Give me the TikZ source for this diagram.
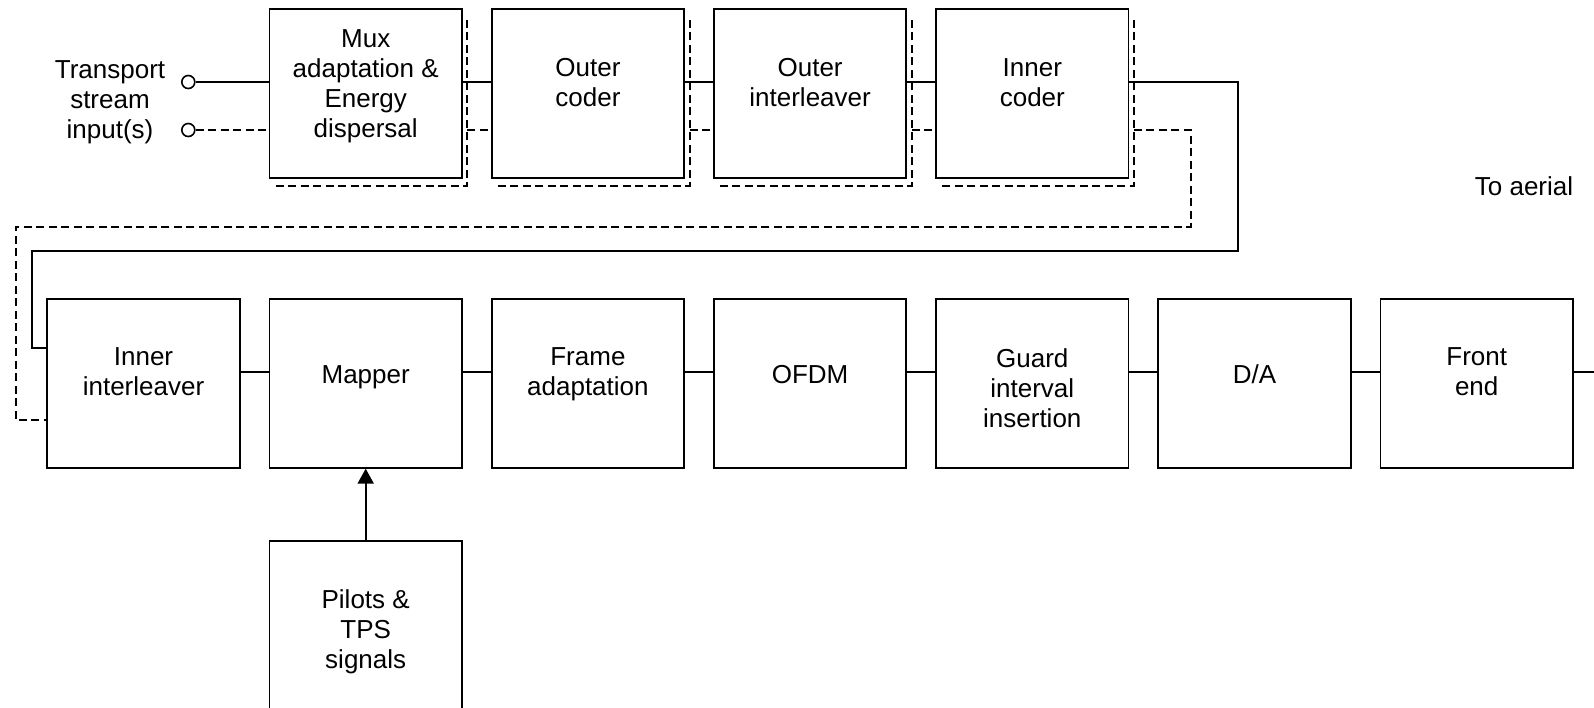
\documentclass[tikz,border=0pt]{standalone}
\usepackage{fontspec}
\setmainfont{Liberation Sans}
\usetikzlibrary{arrows.meta}
\newcommand\firststrut{\vrule width 0pt height 22pt depth 7.5pt\relax}
\begin{document}
\begin{tikzpicture}[x=1pt,y=-1pt,
 blk/.style={draw,line width=1.9pt,minimum width=192.4pt,minimum height=168.4pt,inner sep=0pt},
 txt/.style={anchor=north,align=center,inner sep=0pt,font=\fontsize{26}{30}\selectfont,execute at begin node=\firststrut},
 ln/.style={line width=1.9pt},
 dsh/.style={line width=1.9pt,dash pattern=on 8pt off 4.5pt},
 term/.style={draw,circle,line width=1.6pt,minimum size=13pt,inner sep=0pt}
]
\useasboundingbox (0,0) rectangle (1594,707);
\clip (0,0) rectangle (1594,707);

% top row
\node[blk] (mux) at (365.7,93.5) {};
\node[blk] (oc) at (587.9,93.5) {};
\node[blk] (oi) at (810.1,93.5) {};
\node[blk] (ic) at (1032.3,93.5) {};
% bottom row
\node[blk] (iil) at (143.5,383.5) {};
\node[blk] (map) at (365.7,383.5) {};
\node[blk] (fra) at (587.9,383.5) {};
\node[blk] (ofdm) at (810.1,383.5) {};
\node[blk] (gi) at (1032.3,383.5) {};
\node[blk] (da) at (1254.5,383.5) {};
\node[blk] (fe) at (1476.7,383.5) {};
\node[blk] (pil) at (365.7,624.9) {};

% texts
\node[txt] (tmux) at (365.7,29.3) {Mux\\adaptation \&\\Energy\\dispersal};
\node[txt] (toc) at (587.9,58.5) {Outer\\coder};
\node[txt] (toi) at (810.1,58.5) {Outer\\interleaver};
\node[txt] (tic) at (1032.3,58.5) {Inner\\coder};
\node[txt] (tiil) at (143.5,347.5) {Inner\\interleaver};
\node[txt] (tmap) at (365.7,361) {Mapper};
\node[txt] (tfra) at (587.9,347.5) {Frame\\adaptation};
\node[txt] (tofdm) at (810.1,361) {OFDM};
\node[txt] (tgi) at (1032.3,348) {Guard\\interval\\insertion};
\node[txt] (tda) at (1254.5,361) {D/A};
\node[txt] (tfe) at (1476.7,347.5) {Front\\end};
\node[txt] (tpil) at (365.7,589.5) {Pilots \&\\TPS\\signals};
\node[txt] (tin) at (110,60) {Transport\\stream\\input(s)};
\node[txt] (taer) at (1524,173.5) {To aerial};

% input terminals
\node[term] (in1) at (188.3,82) {};
\node[term] (in2) at (188.3,130) {};

% dashed shadows
\foreach \b in {mux,oc,oi,ic}{
  \coordinate (s\b) at ([xshift=4.5pt]\b.east);
  \draw[dsh] ([xshift=7pt,yshift=-7.5pt]\b.south west) -- ([xshift=4.5pt,yshift=-7.5pt]\b.south east) -- ([xshift=4.5pt,yshift=-9pt]\b.north east);
}

\coordinate (ytop) at (0,82);
\coordinate (ydash) at (0,130);
\coordinate (ybot) at (0,372);

\draw[ln] (in1.east) -- (in1 -| mux.west);
\draw[dsh] (in2.east) -- (in2 -| mux.west);
\draw[ln] (mux.east |- ytop) -- (oc.west |- ytop);
\draw[ln] (oc.east |- ytop) -- (oi.west |- ytop);
\draw[ln] (oi.east |- ytop) -- (ic.west |- ytop);
\draw[dsh] (smux |- ydash) -- (oc.west |- ydash);
\draw[dsh] (soc |- ydash) -- (oi.west |- ydash);
\draw[dsh] (soi |- ydash) -- (ic.west |- ydash);

\coordinate (c1) at (1238.3,251);
\coordinate (c2) at (31.7,347.7);
\draw[ln] (ic.east |- ytop) -| (c1) -| (c2) -- (c2 -| iil.west);
\coordinate (c3) at (1190.7,227);
\coordinate (c4) at (15.7,420);
\draw[dsh] (sic |- ydash) -| (c3) -| (c4) -- (c4 -| iil.west);

\draw[ln] (iil.east |- ybot) -- (map.west |- ybot);
\draw[ln] (map.east |- ybot) -- (fra.west |- ybot);
\draw[ln] (fra.east |- ybot) -- (ofdm.west |- ybot);
\draw[ln] (ofdm.east |- ybot) -- (gi.west |- ybot);
\draw[ln] (gi.east |- ybot) -- (da.west |- ybot);
\draw[ln] (da.east |- ybot) -- (fe.west |- ybot);
\coordinate (aer) at (1600,372);
\draw[ln] (fe.east |- ybot) -- (aer);

\draw[ln,-{Triangle[length=15pt,width=16pt]}] (pil.north) -- (map.south);
\end{tikzpicture}
\end{document}
